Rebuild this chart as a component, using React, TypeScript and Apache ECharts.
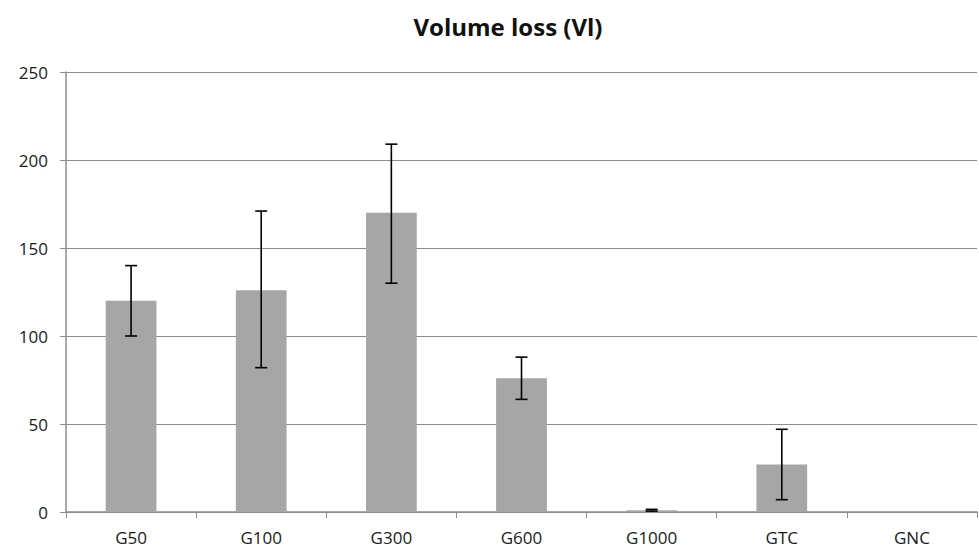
import React, { useEffect, useRef } from "react";
import * as echarts from "echarts";

const categories = ["G50", "G100", "G300", "G600", "G1000", "GTC", "GNC"];
const values = [120, 126, 170, 76, 1, 27, 0];
const errLow = [100, 82, 130, 64, 0.5, 7, 0];
const errHigh = [140, 171, 209, 88, 1.5, 47, 0];
const yTicks = [0, 50, 100, 150, 200, 250];

export default function App() {
  const ref = useRef<HTMLDivElement>(null);
  useEffect(() => {
    if (!ref.current) return;
    const chart = echarts.init(ref.current, undefined, { renderer: "svg" });
    const errData = categories
      .map((c, i) => [i, errLow[i], errHigh[i]])
      .filter((d, i) => errHigh[i] > 0);
    chart.setOption({
      animation: false,
      title: {
        text: "Volume loss (Vl)",
        left: 503,
        textAlign: "center",
        top: 9,
        textStyle: { fontFamily: "Open Sans", fontWeight: "bold", fontSize: 24, color: "#111" },
      },
      grid: { left: 66, right: 2, top: 72, bottom: 38, containLabel: false },
      xAxis: {
        type: "category",
        data: categories,
        axisLine: { show: true, lineStyle: { color: "#8c8c8c", width: 1.5 } },
        axisTick: { show: true, alignWithLabel: false, length: 6, lineStyle: { color: "#8c8c8c" } },
        axisLabel: { color: "#1a1a1a", fontFamily: "Open Sans", fontSize: 17, margin: 17 },
        splitLine: { show: false },
      },
      yAxis: {
        type: "value",
        min: 0,
        max: 250,
        interval: 50,
        axisLine: { show: true, lineStyle: { color: "#8c8c8c", width: 1.5 } },
        axisTick: { show: true, length: 6, lineStyle: { color: "#8c8c8c" } },
        axisLabel: {
          color: "#1a1a1a",
          fontFamily: "Open Sans",
          fontSize: 17,
          margin: 18,
          formatter: (v: number) => (yTicks.includes(v) ? String(v) : ""),
        },
        splitLine: { show: true, lineStyle: { color: "#8c8c8c", width: 1.2 } },
      },
      series: [
        {
          type: "bar",
          data: values,
          barWidth: "39%",
          itemStyle: { color: "#a6a6a6" },
          z: 2,
        },
        {
          type: "custom",
          data: errData,
          z: 5,
          renderItem: (params: any, api: any) => {
            const x = api.value(0);
            const lo = api.coord([x, api.value(1)]);
            const hi = api.coord([x, api.value(2)]);
            const hw = 6;
            const style = { stroke: "#000", lineWidth: 1.6 };
            return {
              type: "group",
              children: [
                { type: "line", shape: { x1: hi[0], y1: hi[1], x2: lo[0], y2: lo[1] }, style },
                { type: "line", shape: { x1: hi[0] - hw, y1: hi[1], x2: hi[0] + hw, y2: hi[1] }, style },
                { type: "line", shape: { x1: lo[0] - hw, y1: lo[1], x2: lo[0] + hw, y2: lo[1] }, style },
              ],
            };
          },
        },
      ],
    });
    return () => chart.dispose();
  }, []);
  return (
    <div
      ref={ref}
      style={{ position: "absolute", left: 0, top: 0, width: 979, height: 550, background: "#fff" }}
    />
  );
}
